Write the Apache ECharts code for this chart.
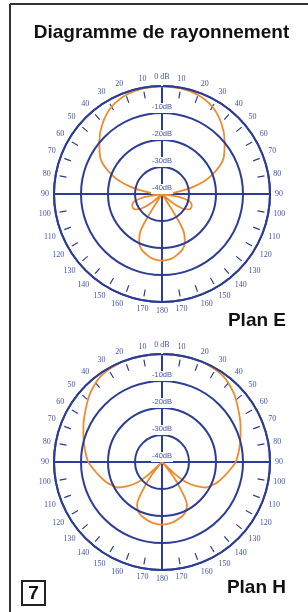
<!DOCTYPE html>
<html>
<head>
<meta charset="utf-8">
<script src="https://cdn.jsdelivr.net/npm/echarts@6/dist/echarts.min.js"></script>
<style>
  html, body { margin: 0; padding: 0; background: #fff; }
  #main { width: 308px; height: 612px; }
</style>
</head>
<body>
<div id="main"></div>
<script>
// E plane (upper diagram): angle in degrees (0..180, mirrored), level in dB
var eAngles = [0, 10, 20, 30, 40, 50, 60, 70, 77, 85, 90, 95, 100, 105, 110, 115, 120, 125, 130, 134, 140, 146, 148, 150, 155, 160, 165, 170, 175, 180];
var eLevels = [0, -0.3, -1, -2.7, -5.8, -9.7, -13.7, -20.9, -27.9, -36, -40, -40, -33, -29.5, -28.3, -28, -28.6, -30.5, -35, -40, -40, -40, -31, -24, -20, -18, -17, -16, -15.5, -15.3];

// H plane (lower diagram)
var hAngles = [0, 10, 20, 25, 30, 36, 40, 46, 50, 58, 65, 72, 81, 90, 96, 103, 110, 115, 120, 125, 130, 133, 136, 138, 142, 146, 150, 155, 160, 170, 180];
var hLevels = [0, 0, 0, -0.2, -0.5, -1, -1.8, -3.1, -4.2, -6.3, -7.9, -9.4, -11.1, -12.7, -14.5, -16.4, -18.1, -19.6, -21.1, -24.4, -28.5, -33.3, -40, -40, -33, -26.7, -21.5, -19.5, -18.5, -17.3, -16.8];

var dbTicks = [-40, -30, -20, -10, 0];

var blue = '#2b3d96';
var labelBlue = '#4456a6';
var orange = '#f08a2e';

// symmetric pattern: right half then mirrored left half
function mirror(angles, levels) {
    var out = [];
    for (var i = 0; i < angles.length; i++) out.push([levels[i], angles[i]]);
    for (var j = angles.length - 2; j >= 0; j--) out.push([levels[j], 360 - angles[j]]);
    return out;
}

var centers = [[162, 194], [162, 462]];
var R = 108;

var polar = [], angleAxis = [], radiusAxis = [];
var spokeColors = [blue, 'transparent', 'transparent', 'transparent', 'transparent', 'transparent', 'transparent', 'transparent', 'transparent'];

centers.forEach(function(c){
    // main grid
    polar.push({center: c, radius: R});
    angleAxis.push({
        polarIndex: polar.length - 1,
        type: 'value', min: 0, max: 360, interval: 10,
        startAngle: 90, clockwise: true,
        axisLine: {show: true, lineStyle: {color: blue, width: 2}},
        axisTick: {show: false},
        splitLine: {show: true, lineStyle: {color: spokeColors, width: 2}},
        axisLabel: {
            margin: 5,
            color: labelBlue,
            fontFamily: 'Liberation Serif',
            fontSize: 8,
            formatter: function(v){
                if (v === 0) return '0 dB';
                if (v === 360) return '';
                return v <= 180 ? String(v) : String(360 - v);
            }
        }
    });
    radiusAxis.push({
        polarIndex: polar.length - 1,
        type: 'value', min: dbTicks[0], max: dbTicks[dbTicks.length - 1], interval: 10,
        axisLine: {show: false},
        axisTick: {show: false},
        splitLine: {show: true, lineStyle: {color: blue, width: 2}},
        axisLabel: {
            margin: 0,
            align: 'center',
            verticalAlign: 'bottom',
            color: labelBlue,
            fontFamily: 'Liberation Sans',
            fontSize: 7.5,
            backgroundColor: '#fff',
            padding: [0, 1, 2, 1],
            formatter: function(v){ return v === 0 ? '' : v + 'dB'; }
        },
        z: 3
    });
    // inner ring of 10-degree ticks, detached from the outer circle
    polar.push({center: c, radius: R - 4});
    angleAxis.push({
        polarIndex: polar.length - 1,
        type: 'value', min: 0, max: 360, interval: 10,
        startAngle: 90, clockwise: true,
        axisLine: {show: false},
        axisTick: {show: true, inside: true, length: 7, lineStyle: {color: blue, width: 1.2}},
        splitLine: {show: false},
        axisLabel: {show: false}
    });
    radiusAxis.push({
        polarIndex: polar.length - 1,
        type: 'value', min: -40, max: 0, show: false
    });
});

var fontBold = 'bold 19px "Liberation Sans", Arial, sans-serif';

var myChart = echarts.init(document.getElementById('main'));
option = {
    backgroundColor: '#fff',
    animation: false,
    polar: polar,
    angleAxis: angleAxis,
    radiusAxis: radiusAxis,
    series: [
        {
            type: 'line', coordinateSystem: 'polar', polarIndex: 0,
            data: mirror(eAngles, eLevels),
            symbol: 'none', smooth: 0.3,
            lineStyle: {color: orange, width: 1.8},
            z: 2
        },
        {
            type: 'line', coordinateSystem: 'polar', polarIndex: 2,
            data: mirror(hAngles, hLevels),
            symbol: 'none', smooth: 0.3,
            lineStyle: {color: orange, width: 1.8},
            z: 2
        }
    ],
    graphic: [
        {type: 'line', shape: {x1: 10, y1: 4, x2: 308, y2: 4}, style: {stroke: '#333', lineWidth: 2}},
        {type: 'line', shape: {x1: 10, y1: 4, x2: 10, y2: 612}, style: {stroke: '#333', lineWidth: 2}},
        {type: 'text', x: 161.5, y: 33, style: {text: 'Diagramme de rayonnement', font: fontBold, fill: '#111', textAlign: 'center', textVerticalAlign: 'middle'}},
        {type: 'text', x: 286, y: 321, style: {text: 'Plan E', font: fontBold, fill: '#111', textAlign: 'right', textVerticalAlign: 'middle'}},
        {type: 'text', x: 286, y: 587.5, style: {text: 'Plan H', font: fontBold, fill: '#111', textAlign: 'right', textVerticalAlign: 'middle'}},
        {type: 'rect', shape: {x: 22, y: 581, width: 23, height: 24}, style: {fill: '#fff', stroke: '#222', lineWidth: 2}},
        {type: 'text', x: 33.5, y: 593.5, style: {text: '7', font: fontBold, fill: '#111', textAlign: 'center', textVerticalAlign: 'middle'}}
    ]
};
myChart.setOption(option);
</script>
</body>
</html>
